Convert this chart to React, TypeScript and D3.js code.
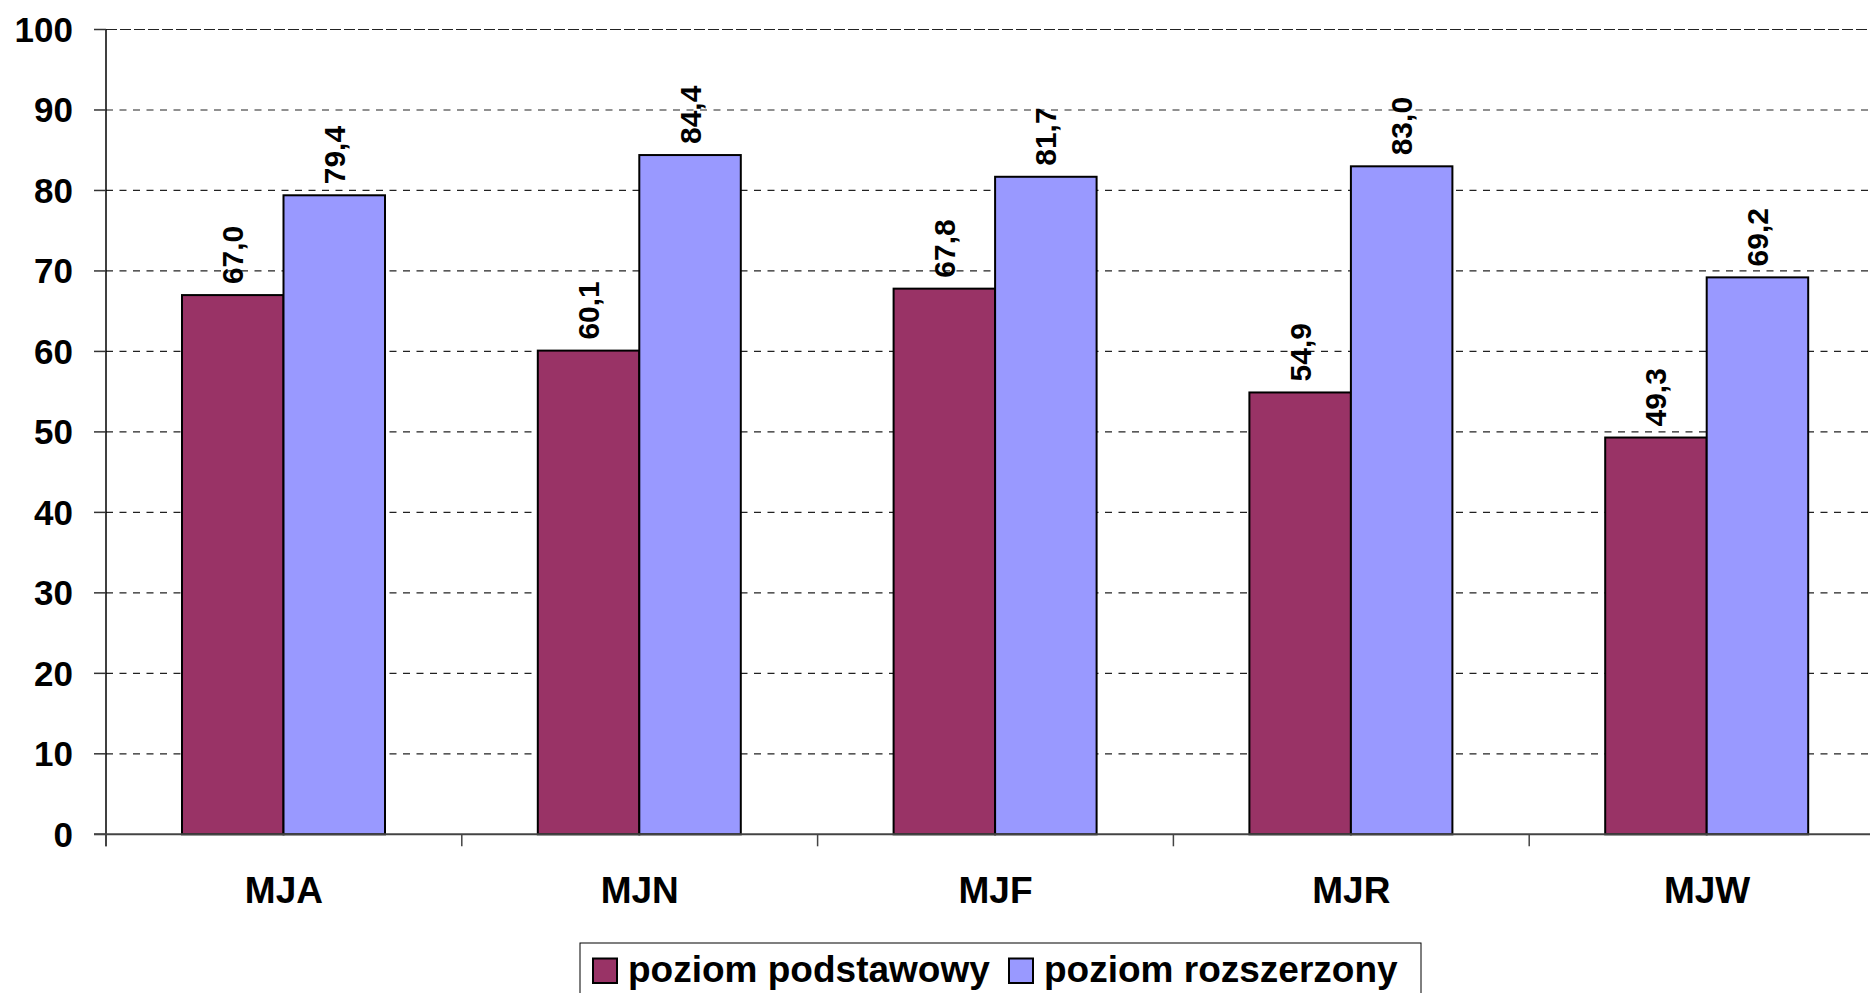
import React, { useEffect, useRef } from 'react'
import * as d3 from 'd3'

const categories = ['MJA', 'MJN', 'MJF', 'MJR', 'MJW']
const seriesNames = ['poziom podstawowy', 'poziom rozszerzony']
const podstawowy = [67.0, 60.1, 67.8, 54.9, 49.3]
const rozszerzony = [79.4, 84.4, 81.7, 83.0, 69.2]
const yTicks = [0, 10, 20, 30, 40, 50, 60, 70, 80, 90, 100]
const colors = ['#993366', '#9999FF']

const FONT = '"Liberation Sans", Arial, Helvetica, sans-serif'

export default function App() {
	const ref = useRef<SVGSVGElement>(null)

	const width = 1870
	const height = 993

	useEffect(() => {
		drawChart()
	}, [])

	const drawChart = () => {
		const svg = d3.select(ref.current)
		svg.selectAll('*').remove()

		// plot area (right side runs off the picture, like the original)
		const left = 106
		const top = 29.5
		const bottom = 834.3
		const band = 355.8

		const y = d3.scaleLinear().domain([0, 100]).range([bottom, top])
		const x0 = d3
			.scaleBand()
			.domain(categories)
			.range([left, left + band * categories.length])
			.padding(0)
		const x1 = d3
			.scaleBand()
			.domain(seriesNames)
			.range([76, 76 + 203])
			.padding(0)

		// gridlines
		svg.append('g')
			.selectAll('line')
			.data(yTicks.filter(t => t > 0))
			.enter()
			.append('line')
			.attr('x1', left)
			.attr('x2', width)
			.attr('y1', d => y(d))
			.attr('y2', d => y(d))
			.attr('stroke', '#222')
			.attr('stroke-width', 1.2)
			.attr('stroke-dasharray', d => (d === 100 ? '11,3' : '7,6.5'))

		// bars
		const rows = categories.map((c, i) => ({ cat: c, values: [podstawowy[i], rozszerzony[i]] }))
		const groups = svg.append('g')
			.selectAll('g')
			.data(rows)
			.enter()
			.append('g')
			.attr('transform', d => `translate(${x0(d.cat)},0)`)

		groups.selectAll('rect')
			.data(d => d.values.map((v, j) => ({ name: seriesNames[j], value: v, j })))
			.enter()
			.append('rect')
			.attr('x', d => x1(d.name)!)
			.attr('y', d => y(d.value))
			.attr('width', x1.bandwidth())
			.attr('height', d => bottom - y(d.value))
			.attr('fill', d => colors[d.j])
			.attr('stroke', '#000')
			.attr('stroke-width', 2)

		// value labels
		groups.selectAll('text')
			.data(d => d.values.map((v, j) => ({ name: seriesNames[j], value: v })))
			.enter()
			.append('text')
			.attr('transform', d => {
				const cx = x1(d.name)! + x1.bandwidth() / 2
				return `translate(${cx}, ${y(d.value) - 11}) rotate(-90)`
			})
			.attr('text-anchor', 'start')
			.attr('dominant-baseline', 'central')
			.style('font-family', FONT)
			.style('font-weight', 'bold')
			.style('font-size', '30px')
			.style('fill', '#000')
			.text(d => d.value.toFixed(1).replace('.', ','))

		// y axis
		svg.append('line')
			.attr('x1', left).attr('x2', left)
			.attr('y1', top).attr('y2', bottom + 12)
			.attr('stroke', '#000').attr('stroke-width', 1.5)

		svg.append('g')
			.selectAll('line')
			.data(yTicks)
			.enter()
			.append('line')
			.attr('x1', left - 12).attr('x2', left)
			.attr('y1', d => y(d)).attr('y2', d => y(d))
			.attr('stroke', '#333').attr('stroke-width', 1.5)

		svg.append('g')
			.selectAll('text')
			.data(yTicks)
			.enter()
			.append('text')
			.attr('x', 73)
			.attr('y', d => y(d))
			.attr('text-anchor', 'end')
			.attr('dominant-baseline', 'central')
			.style('font-family', FONT)
			.style('font-weight', 'bold')
			.style('font-size', '35px')
			.text(d => d)

		// x axis
		svg.append('line')
			.attr('x1', left - 12).attr('x2', width)
			.attr('y1', bottom).attr('y2', bottom)
			.attr('stroke', '#444').attr('stroke-width', 2)

		svg.append('g')
			.selectAll('line')
			.data(categories)
			.enter()
			.append('line')
			.attr('x1', d => x0(d)!).attr('x2', d => x0(d)!)
			.attr('y1', bottom).attr('y2', bottom + 12)
			.attr('stroke', '#444').attr('stroke-width', 1.5)

		svg.append('g')
			.selectAll('text')
			.data(categories)
			.enter()
			.append('text')
			.attr('x', d => x0(d)! + band / 2)
			.attr('y', 903)
			.attr('text-anchor', 'middle')
			.style('font-family', FONT)
			.style('font-weight', 'bold')
			.style('font-size', '37px')
			.text(d => d)

		// legend
		const legend = svg.append('g')
		legend.append('rect')
			.attr('x', 580).attr('y', 943)
			.attr('width', 841).attr('height', 80)
			.attr('fill', '#fff')
			.attr('stroke', '#000').attr('stroke-width', 1)

		const legendX = [593, 1009]
		seriesNames.forEach((name, i) => {
			legend.append('rect')
				.attr('x', legendX[i]).attr('y', 958.5)
				.attr('width', 24).attr('height', 24.5)
				.attr('fill', colors[i])
				.attr('stroke', '#000').attr('stroke-width', 2)
			legend.append('text')
				.attr('x', legendX[i] + 35).attr('y', 982)
				.style('font-family', FONT)
				.style('font-weight', 'bold')
				.style('font-size', '37px')
				.text(name)
		})
	}

	return (
		<svg
			ref={ref}
			width={width}
			height={height}
			style={{ position: 'absolute', left: 0, top: 0, display: 'block', background: '#fff' }}
		/>
	)
}
